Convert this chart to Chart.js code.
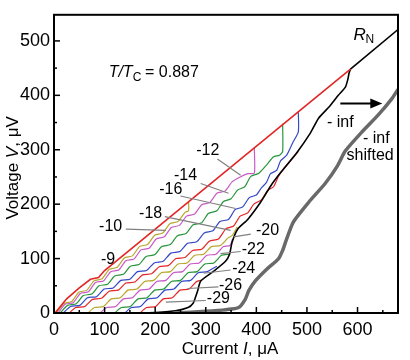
<!DOCTYPE html>
<html>
<head>
<meta charset="utf-8">
<script src="https://cdn.jsdelivr.net/npm/chart.js@4.4.0/dist/chart.umd.min.js"></script>
<style>
  html, body { margin: 0; padding: 0; background: #fff; }
</style>
</head>
<body>
<canvas id="ivChart" width="410" height="360"></canvas>
<script>
// I-V curves, current in uA, voltage in uV
var curveM9  = [[2,0],[25,26],[50,46],[72,62],[88,65],[100,78],[158,122],[217,167],[264,203],[487,373],[586,448]];
var curveM10 = [[5,0],[19,17],[35,21],[49,38],[65,42],[79,59],[95,63],[109,80],[125,84],[139,101],[155,105],[169,122],[185,126],[199,143],[215,147],[229,164],[245,168],[259,185],[266,188],[266,205]];
var curveM12 = [[8,0],[22,16],[38,19],[52,36],[68,39],[82,56],[98,59],[112,76],[128,79],[142,96],[158,99],[172,116],[188,119],[202,136],[218,140],[232,157],[248,161],[262,178],[278,182],[292,199],[308,203],[322,220],[338,224],[352,241],[368,250],[383,256],[396,257],[396,303]];
var curveM14 = [[12,0],[27,14],[44,17],[58,32],[75,35],[89,50],[106,53],[120,68],[137,71],[151,86],[168,89],[182,104],[199,107],[213,122],[230,126],[244,142],[261,146],[275,162],[292,166],[305,183],[322,188],[335,205],[350,210],[363,226],[377,232],[389,251],[405,257],[422,274],[434,287],[446,290],[452,297],[452,348]];
var curveM16 = [[18,0],[33,12],[51,14],[66,28],[84,30],[99,44],[117,46],[132,60],[150,62],[165,76],[183,78],[198,92],[216,95],[231,110],[249,113],[264,128],[282,131],[297,147],[314,151],[328,168],[345,172],[358,190],[373,195],[386,212],[400,217],[410,230],[420,240],[428,256],[440,262],[448,280],[460,290],[473,315],[483,333],[483,369]];
var curveM18 = [[30,0],[43,10],[61,12],[76,25],[94,27],[109,40],[127,42],[142,55],[160,57],[175,70],[193,72],[208,85],[226,87],[241,100],[259,102],[274,115],[292,117],[307,132],[325,136],[340,155],[355,160],[368,178],[383,184],[395,200],[410,208],[422,225],[434,232],[444,252],[454,265],[468,280],[483,297]];
var curveM20 = [[67,0],[80,10],[98,12],[113,26],[131,28],[146,42],[164,44],[179,58],[197,60],[212,74],[230,76],[245,90],[263,92],[278,106],[296,108],[311,122],[329,124],[344,138],[352,142],[362,158]];
var curveM22 = [[91,0],[104,10],[122,12],[137,26],[155,28],[170,42],[188,44],[203,58],[221,60],[236,74],[254,76],[269,90],[287,92],[302,106],[320,108],[335,122],[348,124],[353,136]];
var curveM24 = [[120,0],[133,10],[151,12],[166,26],[184,28],[199,42],[217,44],[232,58],[250,60],[265,74],[283,76],[298,90],[316,92],[331,106],[347,108]];
var curveM26 = [[140,0],[153,10],[171,12],[186,26],[204,28],[219,42],[237,44],[252,58],[270,60],[285,74],[303,76],[322,86]];
var curveM29 = [[170,0],[183,10],[201,12],[216,26],[234,28],[249,42],[267,44],[282,58],[290,60]];
var curveInf = [[0,0],[100,0],[200,1],[240,4],[265,10],[275,18],[280,30],[284,41],[290,59],[316,77],[339,95],[347,108],[352,130],[363,154],[383,172],[408,203],[428,233],[448,258],[481,296],[507,331],[523,358],[545,380],[562,400],[576,415],[581,430],[583,440],[586,448]];
var curveRN = [[586,448],[680,521]];
var curveShifted = [[240,0],[300,3],[340,6],[365,10],[378,25],[385,41],[398,59],[420,80],[444,100],[452,115],[458,131],[473,167],[503,203],[536,238],[560,270],[576,298],[609,333],[641,364],[668,394],[680,411]];

// curve labels: text, label position, leader line start, leader line end
var curveLabels = [
  ['-9',  [107,99],  null, null],
  ['-10', [112,158], [142,154], [221,152]],
  ['-12', [304,299], [323,283], [369,253]],
  ['-14', [260,253], [290,238], [345,220]],
  ['-16', [231,226], [250,215], [359,192]],
  ['-18', [191,183], [219,177], [349,152]],
  ['-20', [422,152], [389,145], [355,140]],
  ['-22', [394,116], [369,113], [329,109]],
  ['-24', [375,81],  [349,79],  [296,73]],
  ['-26', [349,50],  [325,48],  [264,45]],
  ['-29', [325,27],  [300,23],  [221,20]]
];
var arrowFromTo = [[566,385],[649,385]];
var xTicks = [0, 100, 200, 300, 400, 500, 600];
var yTicks = [0, 100, 200, 300, 400, 500];

var RED = 'rgb(226,38,38)', OLIVE = 'rgb(184,168,48)', MAGENTA = 'rgb(200,90,200)',
    GREEN = 'rgb(40,150,60)', BLUE = 'rgb(52,72,200)';
var FONT = '"Liberation Sans", Arial, sans-serif';

function xy(arr) { return arr.map(function (p) { return { x: p[0], y: p[1] }; }); }
function line(data, color, width, order, tension) {
  return { data: xy(data), borderColor: color, borderWidth: width, showLine: true,
           pointRadius: 0, fill: false, tension: tension || 0, order: order };
}

var annotations = {
  id: 'annotations',
  afterDatasetsDraw: function (chart) {
    var c = chart.ctx, xs = chart.scales.x, ys = chart.scales.y, a = chart.chartArea;
    var px = function (v) { return xs.getPixelForValue(v); };
    var py = function (v) { return ys.getPixelForValue(v); };
    c.save();
    // inward ticks
    c.strokeStyle = '#000'; c.lineWidth = 1.5;
    for (var i = 50; i < 680; i += 50) {
      var len = i % 100 === 0 ? 6 : 3;
      c.beginPath(); c.moveTo(px(i), a.bottom); c.lineTo(px(i), a.bottom - len); c.stroke();
    }
    for (var j = 50; j < 550; j += 50) {
      var l2 = j % 100 === 0 ? 6 : 3;
      c.beginPath(); c.moveTo(a.left, py(j)); c.lineTo(a.left + l2, py(j)); c.stroke();
    }
    // frame
    c.lineWidth = 2;
    c.strokeRect(a.left, a.top, a.right - a.left, a.bottom - a.top);
    // leader lines and labels
    c.font = '16px ' + FONT;
    c.textAlign = 'center'; c.textBaseline = 'middle';
    curveLabels.forEach(function (lb) {
      if (lb[2]) {
        c.strokeStyle = 'rgb(128,128,128)'; c.lineWidth = 1.2;
        c.beginPath(); c.moveTo(px(lb[2][0]), py(lb[2][1])); c.lineTo(px(lb[3][0]), py(lb[3][1])); c.stroke();
      }
      c.fillStyle = '#000';
      c.fillText(lb[0], px(lb[1][0]), py(lb[1][1]));
    });
    c.fillText('- inf', px(566), py(349));
    c.fillText('- inf', px(637), py(321));
    c.fillText('shifted', px(625), py(289));
    // arrow
    var x1 = px(arrowFromTo[0][0]), x2 = px(arrowFromTo[1][0]), y1 = py(arrowFromTo[0][1]);
    c.strokeStyle = '#000'; c.lineWidth = 2;
    c.beginPath(); c.moveTo(x1, y1); c.lineTo(x2 - 8, y1); c.stroke();
    c.fillStyle = '#000';
    c.beginPath(); c.moveTo(x2, y1); c.lineTo(x2 - 12, y1 - 5); c.lineTo(x2 - 12, y1 + 5); c.closePath(); c.fill();
    // R_N
    c.textAlign = 'left';
    c.font = 'italic 17px ' + FONT;
    var rx = px(592), ry = py(511);
    c.fillText('R', rx, ry);
    c.font = '12px ' + FONT;
    c.fillText('N', rx + 12, ry + 5);
    // T/Tc
    var tx = px(108), ty = py(441);
    c.font = 'italic 16px ' + FONT;
    c.fillText('T/T', tx, ty);
    var w = c.measureText('T/T').width;
    c.font = '12px ' + FONT;
    c.fillText('C', tx + w, ty + 5);
    c.font = '16px ' + FONT;
    c.fillText(' = 0.887', tx + w + 8, ty);
    // axis titles
    var parts = [['Current ', ''], ['I', 'italic '], [', \u03bcA', '']];
    var total = 0;
    parts.forEach(function (p) { c.font = p[1] + '17px ' + FONT; total += c.measureText(p[0]).width; });
    var sx = (a.left + a.right) / 2 - total / 2 + 4;
    parts.forEach(function (p) {
      c.font = p[1] + '17px ' + FONT;
      c.fillText(p[0], sx, 349); sx += c.measureText(p[0]).width;
    });
    c.translate(13, (a.top + a.bottom) / 2 + 4);
    c.rotate(-Math.PI / 2);
    var vparts = [['Voltage ', ''], ['V', 'italic '], [', \u03bcV', '']];
    total = 0;
    vparts.forEach(function (p) { c.font = p[1] + '17px ' + FONT; total += c.measureText(p[0]).width; });
    sx = -total / 2;
    vparts.forEach(function (p) {
      c.font = p[1] + '17px ' + FONT;
      c.fillText(p[0], sx, 0); sx += c.measureText(p[0]).width;
    });
    c.restore();
  }
};

function onlyTicks(list) {
  return function (s) { s.ticks = list.map(function (v) { return { value: v }; }); };
}

new Chart(document.getElementById('ivChart').getContext('2d'), {
  type: 'scatter',
  data: {
    datasets: [
      line(curveM29, RED, 1.2, 10, 0.2),
      line(curveM26, BLUE, 1.2, 10, 0.2),
      line(curveM24, GREEN, 1.2, 10, 0.2),
      line(curveM22, MAGENTA, 1.2, 10, 0.2),
      line(curveM20, OLIVE, 1.2, 10, 0.2),
      line(curveM18, RED, 1.2, 10, 0.2),
      line(curveM16, BLUE, 1.2, 10, 0.2),
      line(curveM14, GREEN, 1.2, 10, 0.2),
      line(curveM12, MAGENTA, 1.2, 10, 0.2),
      line(curveM10, OLIVE, 1.2, 10, 0.2),
      line(curveInf, '#000', 1.6, 5, 0.2),
      line(curveRN, '#000', 1.6, 5),
      line(curveM9, RED, 1.6, 3),
      line(curveShifted, 'rgb(105,105,105)', 3.5, 4, 0.2)
    ]
  },
  options: {
    responsive: false,
    animation: false,
    layout: { padding: { left: 0, right: 12, top: 7, bottom: 0 } },
    plugins: { legend: { display: false }, tooltip: { enabled: false } },
    scales: {
      x: {
        type: 'linear', min: 0, max: 680,
        grid: { display: false, drawTicks: false },
        border: { display: false },
        afterBuildTicks: onlyTicks(xTicks),
        afterFit: function (s) { s.height = 47; },
        ticks: { padding: 6, color: '#000', maxRotation: 0, autoSkip: false,
                 font: { size: 18, family: FONT } }
      },
      y: {
        type: 'linear', min: 0, max: 548,
        grid: { display: false, drawTicks: false },
        border: { display: false },
        afterBuildTicks: onlyTicks(yTicks),
        afterFit: function (s) { s.width = 54; },
        ticks: { padding: 4, color: '#000', autoSkip: false,
                 font: { size: 18, family: FONT } }
      }
    }
  },
  plugins: [annotations]
});
</script>
</body>
</html>
